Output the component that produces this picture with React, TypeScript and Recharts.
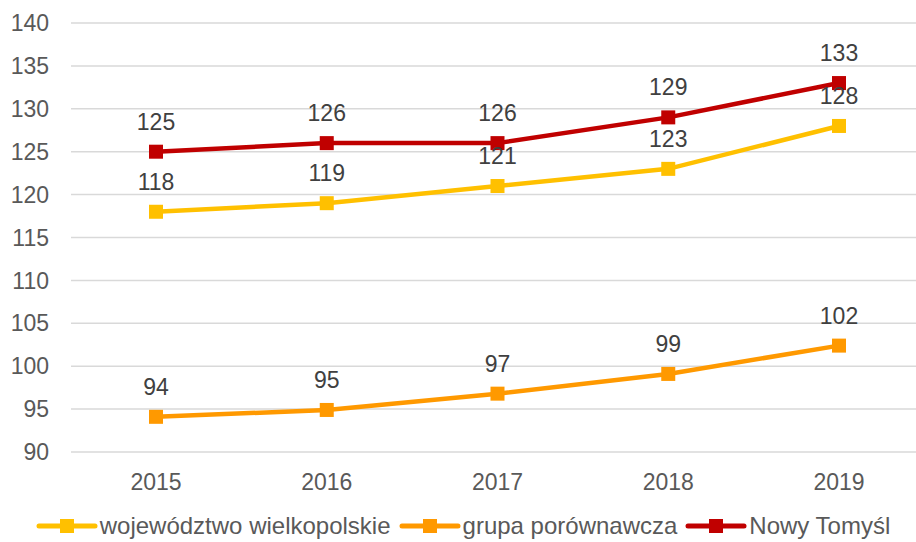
import React from "react";
import {
  LineChart,
  Line,
  XAxis,
  YAxis,
  CartesianGrid,
  LabelList,
  Legend,
} from "recharts";

const years = ["2015", "2016", "2017", "2018", "2019"];
const wielkopolskie = [118, 119, 121, 123, 128];
const grupa = [94.1, 94.9, 96.8, 99.1, 102.4];
const nowyTomysl = [125, 126, 126, 129, 133];
const yTicks = [90, 95, 100, 105, 110, 115, 120, 125, 130, 135, 140];

const series = [
  { key: "woj", name: "województwo wielkopolskie", color: "#FFC000" },
  { key: "grupa", name: "grupa porównawcza", color: "#FF9900" },
  { key: "nt", name: "Nowy Tomyśl", color: "#C00000" },
];

const data = years.map((year, i) => ({
  year,
  woj: wielkopolskie[i],
  grupa: grupa[i],
  nt: nowyTomysl[i],
}));

const font = "'Liberation Sans', Arial, sans-serif";

function LegendContent() {
  return (
    <div
      style={{
        display: "flex",
        justifyContent: "center",
        alignItems: "center",
        fontFamily: font,
        fontSize: 24,
        color: "#595959",
        whiteSpace: "nowrap",
        paddingTop: 4,
        marginLeft: 10,
      }}
    >
      {series.map((s) => (
        <div
          key={s.key}
          style={{ display: "flex", alignItems: "center", marginRight: 8 }}
        >
          <svg width={62} height={16} style={{ marginRight: 2 }}>
            <line
              x1={3}
              y1={8}
              x2={59}
              y2={8}
              stroke={s.color}
              strokeWidth={5}
              strokeLinecap="round"
            />
            <rect x={24} y={1} width={14} height={14} fill={s.color} />
          </svg>
          <span>{s.name}</span>
        </div>
      ))}
    </div>
  );
}

function SquareDot(props: any) {
  const { cx, cy, stroke } = props;
  if (cx == null || cy == null) return null;
  return <rect x={cx - 7} y={cy - 7} width={14} height={14} fill={stroke} />;
}

export default function App() {
  return (
    <div style={{ position: "absolute", left: 0, top: 0, background: "#fff" }}>
      <LineChart
        width={932}
        height={560}
        data={data}
        margin={{ top: 23, right: 8, bottom: 0, left: 0 }}
      >
        <CartesianGrid vertical={false} stroke="#D9D9D9" strokeWidth={1.5} />
        <XAxis
          dataKey="year"
          axisLine={false}
          tickLine={false}
          height={56}
          tickMargin={16}
          padding={{ left: 85, right: 85 }}
          tick={{ fill: "#595959", fontSize: 23, fontFamily: font }}
        />
        <YAxis
          domain={[90, 140]}
          ticks={yTicks}
          axisLine={false}
          tickLine={false}
          width={71}
          tickSize={0}
          tickMargin={22}
          tick={{ fill: "#595959", fontSize: 23, fontFamily: font }}
        />
        <Legend verticalAlign="bottom" height={52} content={<LegendContent />} />
        {series.map((s) => (
          <Line
            key={s.key}
            dataKey={s.key}
            name={s.name}
            stroke={s.color}
            strokeWidth={4.5}
            dot={<SquareDot />}
            activeDot={false}
            isAnimationActive={false}
          >
            <LabelList
              dataKey={s.key}
              position="top"
              offset={22}
              formatter={(v: any) => Math.round(Number(v))}
              style={{ fill: "#404040", fontSize: 23, fontFamily: font }}
            />
          </Line>
        ))}
      </LineChart>
    </div>
  );
}
